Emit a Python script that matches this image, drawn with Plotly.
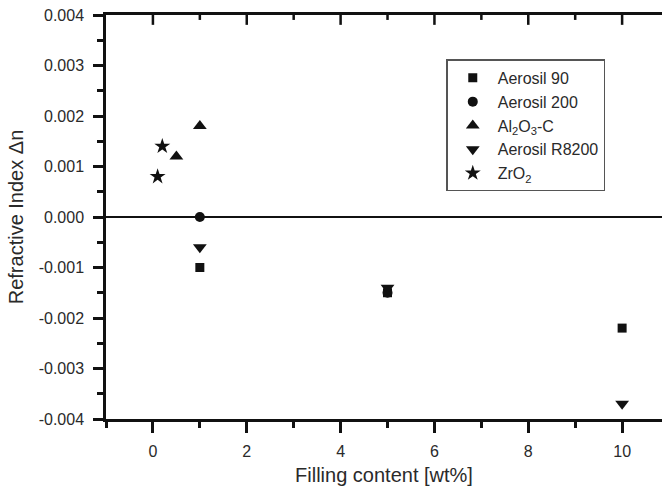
import plotly.graph_objects as go

# ---- data ----
a90_x = [1, 5, 10]
a90_y = [-0.0010, -0.0015, -0.0022]

a200_x = [1, 5]
a200_y = [0.0, -0.0015]

al_x = [0.5, 1]
al_y = [0.0012, 0.0018]

r8200_x = [1, 5, 10]
r8200_y = [-0.0006, -0.0014, -0.0037]

zr_x = [0.1, 0.2]
zr_y = [0.0008, 0.0014]

y_tickvals = [0.004, 0.003, 0.002, 0.001, 0.0, -0.001, -0.002, -0.003, -0.004]
y_ticktext = ["0.004", "0.003", "0.002", "0.001", "0.000",
              "-0.001", "-0.002", "-0.003", "-0.004"]
x_tickvals = [0, 2, 4, 6, 8, 10]
x_ticktext = ["0", "2", "4", "6", "8", "10"]
x_minor_tickvals = [1, 3, 5, 7, 9]

FONT = "Liberation Sans, Arial, sans-serif"
INK = "#111111"
TXT = "#2a2a2a"

xr = [-1.0, 10.85]
yr = [-0.004, 0.004]

fig = go.Figure()

# inward tick marks along the top frame (derived from the x tick arrays)
top_major_len = (yr[1] - yr[0]) / 41.0   # ~10 px
top_minor_len = (yr[1] - yr[0]) / 82.0   # ~5 px
tick_w = (xr[1] - xr[0]) / 220.0         # ~2.5 px
fig.add_trace(go.Bar(
    x=x_tickvals, y=[-top_major_len] * len(x_tickvals), base=yr[1],
    width=tick_w, marker=dict(color=INK, line=dict(width=0)),
    showlegend=False, hoverinfo="skip",
))
fig.add_trace(go.Bar(
    x=x_minor_tickvals, y=[-top_minor_len] * len(x_minor_tickvals), base=yr[1],
    width=tick_w, marker=dict(color=INK, line=dict(width=0)),
    showlegend=False, hoverinfo="skip",
))

series = [
    ("Aerosil 90", a90_x, a90_y, "square", 9),
    ("Aerosil 200", a200_x, a200_y, "circle", 10),
    ("Al<sub>2</sub>O<sub>3</sub>-C", al_x, al_y, "triangle-up", 12),
    ("Aerosil R8200", r8200_x, r8200_y, "triangle-down", 12),
    ("ZrO<sub>2</sub>", zr_x, zr_y, "star", 12),
]
for name, xs, ys, sym, sz in series:
    fig.add_trace(go.Scatter(
        x=xs, y=ys, mode="markers", name=name,
        marker=dict(symbol=sym, size=sz, color=INK, line=dict(width=0)),
    ))

fig.update_layout(
    width=662, height=486,
    margin=dict(l=106, r=0, t=15, b=62),
    paper_bgcolor="white", plot_bgcolor="white",
    font=dict(family=FONT, size=16, color=TXT),
    showlegend=True,
    barmode="overlay",
    legend=dict(
        x=0.612, y=0.89, xanchor="left", yanchor="top",
        bordercolor="#555555", borderwidth=1.5, bgcolor="white",
        font=dict(size=16, color=TXT), itemwidth=40,
        tracegroupgap=0,
    ),
    xaxis=dict(
        range=xr, showgrid=False, zeroline=False,
        showline=True, linecolor=INK, linewidth=2.5, mirror=True,
        ticks="outside", ticklen=11, tickwidth=2.5, tickcolor=INK,
        tickvals=x_tickvals, ticktext=x_ticktext,
        minor=dict(dtick=1, tick0=0, ticks="outside", ticklen=6,
                   tickwidth=2.5, tickcolor=INK, showgrid=False),
        tickfont=dict(size=16, color=TXT),
        ticklabelstandoff=5,
        title=dict(text="Filling content [wt%]", font=dict(size=20, color=TXT),
                   standoff=12),
    ),
    yaxis=dict(
        range=yr, showgrid=False,
        zeroline=True, zerolinecolor=INK, zerolinewidth=1.8,
        showline=True, linecolor=INK, linewidth=2.5,
        ticks="outside", ticklen=10, tickwidth=2.5, tickcolor=INK,
        tickvals=y_tickvals, ticktext=y_ticktext,
        minor=dict(dtick=0.0005, tick0=0, ticks="outside", ticklen=6,
                   tickwidth=2.5, tickcolor=INK, showgrid=False),
        tickfont=dict(size=16, color=TXT),
        ticklabelstandoff=6,
        title=dict(text="Refractive Index Δn", font=dict(size=20, color=TXT),
                   standoff=10),
    ),
)

fig.write_html("out.html")
